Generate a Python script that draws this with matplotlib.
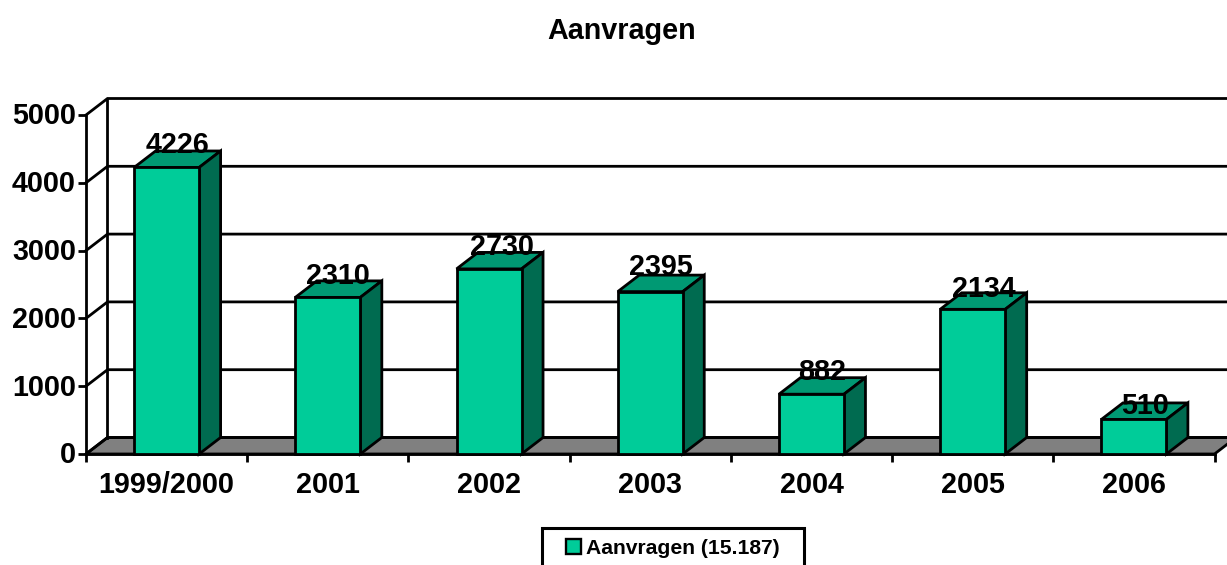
import matplotlib
matplotlib.use("Agg")
import matplotlib.pyplot as plt
from matplotlib.patches import Patch, Polygon, Rectangle
from matplotlib.transforms import ScaledTranslation

plt.rcParams['font.family'] = ['Liberation Sans', 'DejaVu Sans']

categories = ["1999/2000", "2001", "2002", "2003", "2004", "2005", "2006"]
values = [4226, 2310, 2730, 2395, 882, 2134, 510]
y_ticks = [0, 1000, 2000, 3000, 4000, 5000]
chart_title = "Aanvragen"
legend_label = "Aanvragen (15.187)"

W, H = 1227, 565
FRONT, TOP, SIDE, FLOOR = "#00CC99", "#009973", "#006B50", "#808080"
LW = 2.0
X0, X1, Y0, Y5 = 86.0, 1214.5, 454.0, 115.0
PX_PER_CAT = (X1 - X0) / 7
PX_PER_UNIT = (Y0 - Y5) / 5000
DX = 21.5 / PX_PER_CAT
DY = 16.5 / PX_PER_UNIT
BAR_W = 65 / PX_PER_CAT
# label placement relative to the bar top, in points (x, y)
label_shift = [(0, 16), (-0.7, 15.5), (1.4, 15.5), (0, 17.5), (0, 16), (0, 14.7), (0, 9.5)]

fig = plt.figure(figsize=(W / 100, H / 100), dpi=100, facecolor="white")
ax = fig.add_axes([X0 / W, 1 - Y0 / H, (X1 - X0) / W, (Y0 - Y5) / H])
ax.set_xlim(-0.5, 6.5)
ax.set_ylim(0, 5000)
ax.patch.set_visible(False)
for s in ("top", "right"):
    ax.spines[s].set_visible(False)
for s in ("left", "bottom"):
    ax.spines[s].set_linewidth(LW)
    ax.spines[s].set_zorder(1.5)

L, R = -0.5, 6.5
ax.add_patch(Polygon([(L, 0), (R, 0), (R + DX, DY), (L + DX, DY)], closed=True,
                     facecolor=FLOOR, edgecolor="black", lw=LW, clip_on=False, zorder=1))
for t in y_ticks:
    ax.plot([L, L + DX, R + DX], [t, t + DY, t + DY], color="black", lw=LW,
            clip_on=False, zorder=1, solid_joinstyle="miter")
ax.plot([L + DX, L + DX], [DY, 5000 + DY], color="black", lw=LW, clip_on=False, zorder=1)

x = list(range(len(categories)))
ax.bar(x, values, width=BAR_W, color=FRONT, edgecolor="black", linewidth=LW,
       zorder=3, clip_on=False)
for xi, v, (sx, sy) in zip(x, values, label_shift):
    a, b = xi - BAR_W / 2, xi + BAR_W / 2
    ax.add_patch(Polygon([(a, v), (b, v), (b + DX, v + DY), (a + DX, v + DY)], closed=True,
                         facecolor=TOP, edgecolor="black", lw=LW, clip_on=False, zorder=2.8))
    ax.add_patch(Polygon([(b, 0), (b + DX, DY), (b + DX, v + DY), (b, v)], closed=True,
                         facecolor=SIDE, edgecolor="black", lw=LW, clip_on=False, zorder=2.8))
    ax.annotate(str(v), (xi + DX / 2, v), xytext=(sx, sy), textcoords="offset points",
                ha="center", va="center", fontsize=20.7, fontweight="bold",
                color="black", zorder=5)

ax.set_yticks(y_ticks)
ax.tick_params(axis="y", length=5.8, width=LW, pad=1.5, labelsize=20.7)
ax.set_xticks(x)
ax.set_xticklabels(categories)
ax.tick_params(axis="x", which="major", length=0, pad=12.5, labelsize=20.7)
ax.set_xticks([i - 0.5 for i in range(len(categories) + 1)], minor=True)
ax.tick_params(axis="x", which="minor", length=5.8, width=LW)
for lab in ax.get_xticklabels() + ax.get_yticklabels():
    lab.set_fontweight("bold")
up = ScaledTranslation(0, 1.2 / 72, fig.dpi_scale_trans)
for lab in ax.get_yticklabels():
    lab.set_transform(lab.get_transform() + up)

fig.text(621.5 / W, 1 - 31 / H, chart_title, ha="center", va="center",
         fontsize=20.7, fontweight="bold")

fig.add_artist(Rectangle((542 / W, 1 - 575 / H), 262 / W, 47.5 / H, transform=fig.transFigure,
                         facecolor="white", edgecolor="black", lw=2.2))
leg = fig.legend(handles=[Patch(facecolor=FRONT, edgecolor="black", linewidth=1.7, label=legend_label)],
                 loc="center", bbox_to_anchor=(673 / W, 1 - 548 / H), frameon=False,
                 prop={"size": 15.2, "weight": "bold"}, handlelength=0.7, handleheight=0.7,
                 handletextpad=0.25, borderpad=0)
leg.set_zorder(6)

fig.savefig("out.png", dpi=100)
